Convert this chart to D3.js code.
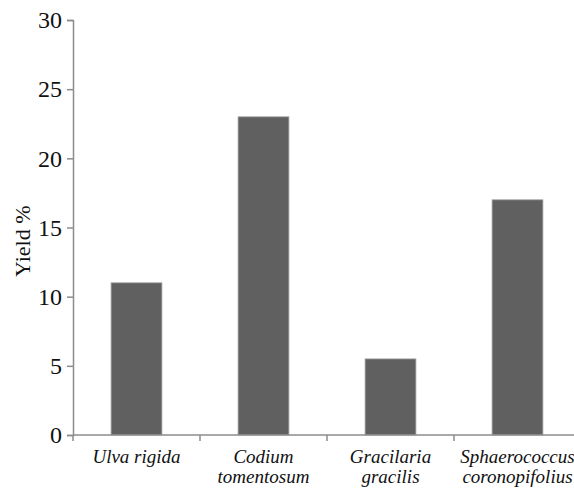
<!DOCTYPE html>
<html><head><meta charset="utf-8">
<script src="https://cdn.jsdelivr.net/npm/d3@7"></script>
<style>body{margin:0;background:#fff;} svg{display:block;} text{font-family:'Liberation Serif','Times New Roman',serif;}</style>
</head><body>
<svg id="c" width="574" height="488"></svg>
<script>
const categories = [["Ulva rigida"], ["Codium", "tomentosum"], ["Gracilaria", "gracilis"], ["Sphaerococcus", "coronopifolius"]];
const values = [11, 23, 5.5, 17];
const yTicks = [0, 5, 10, 15, 20, 25, 30];
const yLabel = "Yield %";

const svg = d3.select("#c");
const x0 = 73, y0 = 435, yTop = 20, band = 127;
const x = d3.scaleBand().domain(d3.range(categories.length)).range([x0, x0 + band * categories.length]).paddingInner(0.6).paddingOuter(0.3);
const xb = d3.scaleBand().domain(d3.range(categories.length)).range([x0, x0 + band * categories.length]);
const y = d3.scaleLinear().domain([0, 30]).range([y0, yTop]);
const font = "'Liberation Serif', 'Times New Roman', serif";

svg.selectAll("rect.bar").data(values).join("rect")
  .attr("x", (d, i) => x(i)).attr("width", x.bandwidth())
  .attr("y", d => y(d)).attr("height", d => y0 - y(d))
  .attr("fill", "#606060").attr("stroke", "#a0a0a0").attr("stroke-width", 0.8);

// Y axis
const ya = svg.append("g").attr("transform", `translate(${x0},0)`)
  .call(d3.axisLeft(y).tickValues(yTicks).tickSize(6).tickPadding(5).tickFormat(d3.format("d")));
ya.attr("font-family", null);
ya.select(".domain").attr("stroke", "#8c8c8c").attr("stroke-width", 1.5);
ya.selectAll(".tick line").attr("stroke", "#8c8c8c").attr("stroke-width", 1.5);
ya.selectAll("text").style("font-family", font).style("font-size", "24px").attr("fill", "#111");

// X axis
const xa = svg.append("g").attr("transform", `translate(0,${y0})`);
xa.append("line").attr("x1", x0).attr("x2", x0 + band * categories.length).attr("y1", 0).attr("y2", 0)
  .attr("stroke", "#8c8c8c").attr("stroke-width", 1.5);
xa.selectAll("line.t").data(d3.range(categories.length + 1)).join("line").attr("class", "t")
  .attr("x1", i => x0 + band * i).attr("x2", i => x0 + band * i).attr("y1", 0).attr("y2", 6)
  .attr("stroke", "#8c8c8c").attr("stroke-width", 1.5);
const lab = xa.selectAll("text.c").data(categories).join("text").attr("class", "c")
  .style("font-family", font).style("font-style", "italic").style("font-size", "19px").attr("fill", "#111")
  .attr("text-anchor", "middle");
lab.each(function (lines, i) {
  const t = d3.select(this);
  lines.forEach((s, k) => t.append("tspan").attr("x", xb(i) + xb.bandwidth() / 2).attr("y", 28 + k * 20).text(s));
});

svg.append("text").attr("transform", `translate(30,277) rotate(-90)`)
  .attr("text-anchor", "start").style("font-family", font).style("font-size", "22px").attr("fill", "#111").text(yLabel);
</script>
</body></html>
